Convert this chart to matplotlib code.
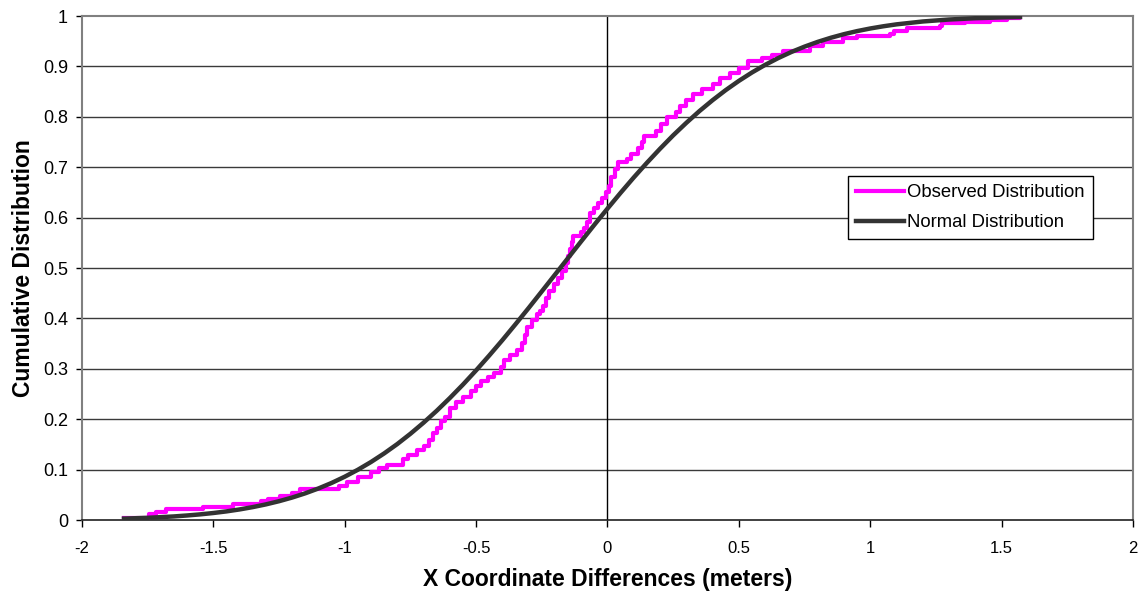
import matplotlib
matplotlib.use('Agg')
import matplotlib.pyplot as plt

plt.rcParams['font.family'] = ['Liberation Sans', 'DejaVu Sans']

# Observed distribution (step ECDF), jump locations and levels
obs_x = [-1.84, -1.745, -1.72, -1.68, -1.54, -1.425, -1.32, -1.29, -1.245, -1.2,
         -1.17, -1.02, -0.99, -0.95, -0.9, -0.87, -0.84, -0.78, -0.76, -0.725,
         -0.7, -0.68, -0.665, -0.65, -0.635, -0.62, -0.6, -0.575, -0.548, -0.52,
         -0.5, -0.48, -0.455, -0.43, -0.405, -0.395, -0.37, -0.345, -0.325, -0.315,
         -0.306, -0.287, -0.27, -0.257, -0.245, -0.235, -0.222, -0.205, -0.19, -0.172,
         -0.158, -0.15, -0.143, -0.136, -0.13, -0.1, -0.088, -0.078, -0.068, -0.05,
         -0.036, -0.021, -0.005, 0.006, 0.015, 0.028, 0.04, 0.074, 0.09, 0.115,
         0.13, 0.14, 0.185, 0.205, 0.225, 0.26, 0.275, 0.3, 0.325, 0.36,
         0.4, 0.428, 0.466, 0.5, 0.535, 0.59, 0.625, 0.668, 0.77, 0.82,
         0.895, 0.95, 1.075, 1.09, 1.14, 1.265, 1.275, 1.36, 1.455, 1.52, 1.57]
obs_y = [0.003, 0.012, 0.016, 0.022, 0.026, 0.032, 0.038, 0.042, 0.047, 0.054,
         0.062, 0.068, 0.076, 0.086, 0.095, 0.103, 0.109, 0.122, 0.129, 0.139,
         0.146, 0.159, 0.172, 0.182, 0.196, 0.205, 0.222, 0.235, 0.245, 0.256,
         0.266, 0.276, 0.284, 0.292, 0.303, 0.318, 0.328, 0.338, 0.352, 0.368,
         0.384, 0.396, 0.408, 0.414, 0.425, 0.44, 0.455, 0.468, 0.481, 0.495,
         0.51, 0.523, 0.537, 0.552, 0.563, 0.571, 0.58, 0.592, 0.61, 0.62,
         0.63, 0.64, 0.65, 0.662, 0.68, 0.696, 0.71, 0.716, 0.726, 0.738,
         0.75, 0.762, 0.771, 0.785, 0.799, 0.809, 0.821, 0.834, 0.845, 0.855,
         0.866, 0.878, 0.888, 0.897, 0.91, 0.917, 0.923, 0.93, 0.94, 0.948,
         0.956, 0.96, 0.964, 0.97, 0.976, 0.98, 0.986, 0.988, 0.992, 0.996, 1.0]

# Normal distribution curve, values read at regular x positions
norm_x = [-1.84, -1.75, -1.7, -1.65, -1.6, -1.55, -1.5, -1.45, -1.4, -1.35,
          -1.3, -1.25, -1.2, -1.15, -1.1, -1.05, -1.0, -0.95, -0.9, -0.85,
          -0.8, -0.75, -0.7, -0.65, -0.6, -0.55, -0.5, -0.45, -0.4, -0.35,
          -0.3, -0.25, -0.2, -0.15, -0.1, -0.05, 0.0, 0.05, 0.1, 0.15,
          0.2, 0.25, 0.3, 0.35, 0.4, 0.45, 0.5, 0.55, 0.6, 0.65,
          0.7, 0.75, 0.8, 0.85, 0.9, 0.95, 1.0, 1.05, 1.1, 1.2,
          1.3, 1.4, 1.5, 1.57]
norm_y = [0.0028, 0.0044, 0.0057, 0.0071, 0.0090, 0.0112, 0.0139, 0.0171, 0.0210, 0.0256,
          0.0310, 0.0373, 0.0446, 0.0530, 0.0626, 0.0735, 0.0859, 0.0997, 0.1151, 0.1321,
          0.1507, 0.1711, 0.1931, 0.2167, 0.2420, 0.2687, 0.2969, 0.3264, 0.3569, 0.3885,
          0.4207, 0.4536, 0.4867, 0.5199, 0.5530, 0.5858, 0.6179, 0.6493, 0.6797, 0.7088,
          0.7367, 0.7633, 0.7881, 0.8115, 0.8331, 0.8531, 0.8714, 0.8881, 0.9032, 0.9167,
          0.9288, 0.9394, 0.9488, 0.9570, 0.9641, 0.9702, 0.9754, 0.9798, 0.9836, 0.9893,
          0.9932, 0.9958, 0.9974, 0.9982]

x_ticks = [-2, -1.5, -1, -0.5, 0, 0.5, 1, 1.5, 2]
x_labels = ['-2', '-1.5', '-1', '-0.5', '0', '0.5', '1', '1.5', '2']
y_ticks = [0, 0.1, 0.2, 0.3, 0.4, 0.5, 0.6, 0.7, 0.8, 0.9, 1]
y_labels = ['0', '0.1', '0.2', '0.3', '0.4', '0.5', '0.6', '0.7', '0.8', '0.9', '1']

fig = plt.figure(figsize=(11.38, 5.96), dpi=100)
ax = fig.add_axes([0.072, 0.1275, 0.9236, 0.8455])

for yv in y_ticks[1:-1]:
    ax.axhline(yv, color='#3a3a3a', linewidth=1.0, zorder=1)
ax.axvline(0, color='black', linewidth=1.0, zorder=1)

ax.step(obs_x, obs_y, where='post', color='#FF00FF', linewidth=3.0,
        label='Observed Distribution', zorder=3)
ax.plot(norm_x, norm_y, color='#333333', linewidth=3.2,
        label='Normal Distribution', zorder=4)

ax.set_xlim(-2, 2)
ax.set_ylim(0, 1)
ax.set_xticks(x_ticks)
ax.set_xticklabels(x_labels)
ax.set_yticks(y_ticks)
ax.set_yticklabels(y_labels)
ax.tick_params(axis='x', direction='out', length=5, width=1, pad=10, labelsize=12)
ax.tick_params(axis='y', direction='out', length=4, width=1, pad=6, labelsize=13)

for side in ['left', 'top', 'right']:
    ax.spines[side].set_color('#808080')
    ax.spines[side].set_linewidth(1.5)
ax.spines['bottom'].set_color('#202020')
ax.spines['bottom'].set_linewidth(1.2)

ax.set_xlabel('X Coordinate Differences (meters)', fontsize=16.5, fontweight='bold', labelpad=9)
ax.set_ylabel('Cumulative Distribution', fontsize=16.5, fontweight='bold', labelpad=6)

leg = ax.legend(loc='upper left', bbox_to_anchor=(0.729, 0.683), fontsize=13.3,
                frameon=True, fancybox=False, framealpha=1, edgecolor='black',
                handlelength=2.55, handletextpad=0.2, borderpad=0.45, labelspacing=0.7,
                borderaxespad=0)
leg.get_frame().set_linewidth(1.0)

fig.savefig('out.png', dpi=100)
